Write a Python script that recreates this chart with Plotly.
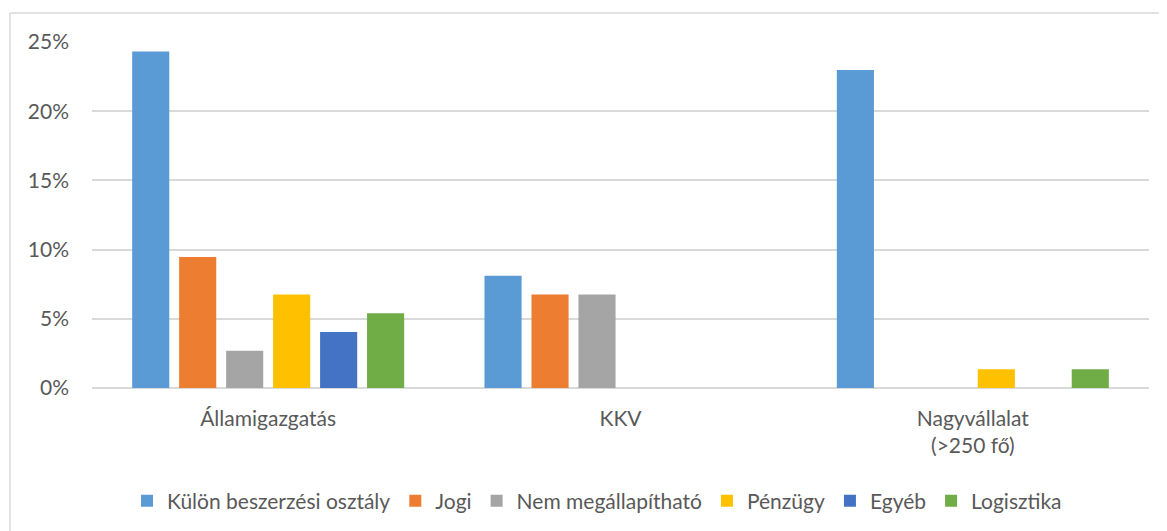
import plotly.graph_objects as go

categories = ["Államigazgatás", "KKV", "Nagyvállalat<br>(>250 fő)"]
series_names = ["Külön beszerzési osztály", "Jogi", "Nem megállapítható", "Pénzügy", "Egyéb", "Logisztika"]
kulon = [0.2432, 0.0811, 0.2297]
jogi = [0.0946, 0.0676, 0.0]
nem_megallapithato = [0.0270, 0.0676, 0.0]
penzugy = [0.0676, 0.0, 0.0135]
egyeb = [0.0405, 0.0, 0.0]
logisztika = [0.0541, 0.0, 0.0135]
colors = ["#5B9BD5", "#ED7D31", "#A5A5A5", "#FFC000", "#4472C4", "#70AD47"]
y_ticks = [0, 0.05, 0.10, 0.15, 0.20, 0.25]

series_values = [kulon, jogi, nem_megallapithato, penzugy, egyeb, logisztika]

W, H = 1167, 531
OFF = 8  # page body margin offset
ML = 92 - OFF
MT = 42 - OFF
plot_bottom = 388 - OFF
plot_right = 1149 - OFF
MR = W - plot_right
MB = H - plot_bottom
pw, ph = W - ML - MR, H - MT - MB

fig = go.Figure()
for name, vals, col in zip(series_names, series_values, colors):
    fig.add_trace(go.Bar(x=categories, y=vals, name=name, marker=dict(color=col, line=dict(width=0))))

font_family = "Lato, 'Open Sans', sans-serif"
txt = "#595959"
FS = 21

def px_x(x):
    return (x - OFF - ML) / pw

def px_y(y):
    return (plot_bottom - (y - OFF)) / ph

fig.update_layout(
    width=W, height=H,
    margin=dict(l=ML, r=MR, t=MT, b=MB),
    plot_bgcolor="white", paper_bgcolor="white",
    barmode="group", bargap=0.2, bargroupgap=0.21,
    font=dict(family=font_family, size=FS, color=txt),
    showlegend=True,
    legend=dict(orientation="h", x=px_x(597), xanchor="center", y=px_y(501), yanchor="middle",
                font=dict(size=FS, color=txt), traceorder="normal", itemclick=False),
    xaxis=dict(showgrid=False, showline=False, ticks="", ticklabelstandoff=16,
               tickfont=dict(size=FS, color=txt)),
    yaxis=dict(range=[0, 0.25], tickvals=y_ticks, tickformat=".0%", showgrid=True,
               gridcolor="#D9D9D9", gridwidth=1.5, zeroline=True, zerolinecolor="#D9D9D9",
               zerolinewidth=1.5, showline=False, ticks="", ticklabelstandoff=22,
               tickfont=dict(size=FS, color=txt)),
    shapes=[
        dict(type="line", xref="paper", yref="paper", x0=px_x(10), x1=px_x(1175), y0=px_y(13), y1=px_y(13),
             line=dict(color="#D9D9D9", width=1.5)),
        dict(type="line", xref="paper", yref="paper", x0=px_x(10), x1=px_x(10), y0=px_y(13), y1=px_y(540),
             line=dict(color="#D9D9D9", width=1.5)),
    ],
)

fig.write_html("out.html", config={"displayModeBar": False})
